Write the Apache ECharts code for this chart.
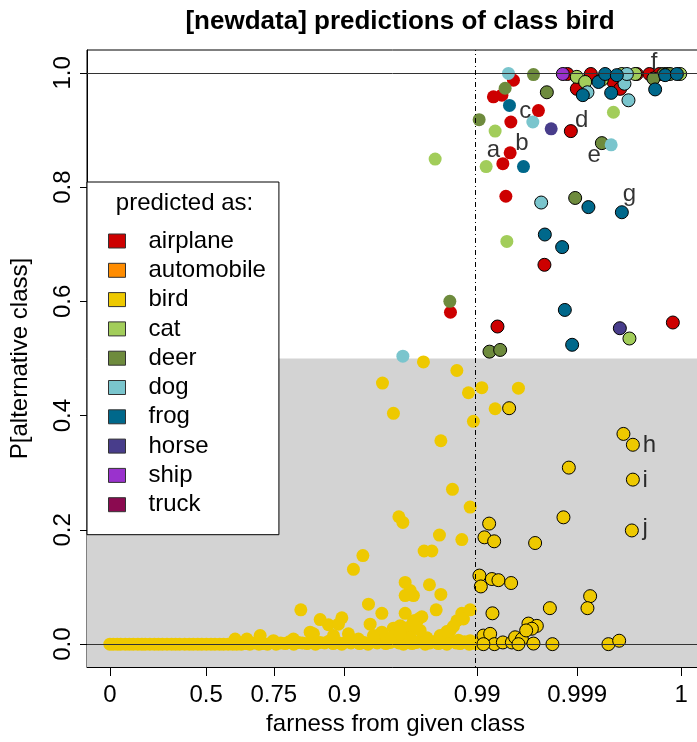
<!DOCTYPE html>
<html><head><meta charset="utf-8">
<script src="https://cdn.jsdelivr.net/npm/echarts@6/dist/echarts.min.js"></script>
<style>html,body{margin:0;padding:0;background:#fff}#c{width:697px;height:742px}</style>
</head><body><div id="c"></div>
<script>
// ---------- labels / scales ----------
const classNames = ['airplane','automobile','bird','cat','deer','dog','frog','horse','ship','truck'];
const classColors = ['#CD0000','#FF8C00','#EEC900','#A2CD5A','#6E8B3D','#7AC5CD','#00688B','#483D8B','#9A32CD','#8B0A50'];
// x axis: farness from given class, shown on a stretched scale; tick labels and their axis positions
const xTickLabels = ['0','0.5','0.75','0.9','0.99','0.999','1'];
const xTickPos = [0, 0.1686, 0.2870, 0.4107, 0.6430, 0.8180, 1];
const yTicks = [0, 0.2, 0.4, 0.6, 0.8, 1.0];
const thresholdX = 0.6430;   // farness 0.99
const refLinesY = [0, 1];
const shadeTop = 0.5;

// ---------- data: [axis position of farness, P[alternative class], outlined(1/0)] ----------
const airplanePts = [
  [0.7065,0.987,0],[0.6862,0.961,0],[0.6714,0.958,0],[0.7502,0.934,0],[0.7019,0.914,0],
  [0.7007,0.860,0],[0.6879,0.841,0],[0.6932,0.784,0],[0.5962,0.581,0],
  [0.8069,0.898,1],[0.7607,0.664,1],[0.6785,0.556,1],[0.9855,0.563,1],
  [0.8010,0.998,1],[0.8419,0.998,1],[0.9224,0.998,1],[0.9445,0.998,1],[0.9620,0.998,1],
  [0.8174,0.972,1],[0.8815,0.984,1],[0.8932,0.972,1]
];
const automobilePts = [];
const birdPts = [
  [0.5489,0.494,0],[0.6074,0.479,0],[0.4772,0.457,0],[0.6277,0.440,0],[0.6511,0.449,0],
  [0.7152,0.448,0],[0.4964,0.404,0],[0.6744,0.412,0],[0.6364,0.390,0],[0.5794,0.356,0],
  [0.5997,0.271,0],[0.6307,0.240,0],[0.5059,0.223,0],[0.5129,0.213,0],[0.5769,0.191,0],
  [0.6161,0.183,0],[0.4429,0.155,0],[0.4264,0.131,0],[0.5501,0.163,0],[0.5636,0.163,0],
  [0.5169,0.108,0],[0.5256,0.094,0],[0.5169,0.085,0],[0.5314,0.085,0],[0.5594,0.104,0],
  [0.5794,0.087,0],[0.4527,0.070,0],[0.4761,0.054,0],[0.5169,0.054,0],[0.5712,0.060,0],
  [0.3343,0.060,0],[0.4556,0.035,0],[0.3681,0.043,0],[0.3826,0.034,0],[0.4061,0.046,0],
  [0.4001,0.035,0],[0.6161,0.054,0],[0.6307,0.060,0],[0.6074,0.041,0],[0.6189,0.044,0],
  [0.5957,0.024,0],[0.5402,0.044,0],[0.5461,0.048,0],[0.5374,0.029,0],[0.4964,0.028,0],
  [0.5081,0.032,0],[0.5227,0.029,0],[0.4761,0.021,0],[0.3564,0.018,0],[0.2631,0.015,0],
  [0.4176,0.018,0],[0.4351,0.009,0],[0.2193,0.009,0],[0.2398,0.009,0],[0.3214,0.009,0],
  [0.3506,0.021,0],[0.3914,0.015,0],[0.4614,0.015,0],[0.4936,0.012,0],[0.5549,0.011,0],
  [0.5782,0.015,0],[0.5899,0.022,0],[0.6014,0.031,0],[0.6102,0.007,0],[0.6307,0.006,0],
  [0.5256,0.012,0],[0.5081,0.018,0],[0.5314,0.041,0],[0.5431,0.024,0],[0.2864,0.006,0],
  [0.6989,0.413,1],[0.8990,0.368,1],[0.9155,0.349,1],[0.8034,0.309,1],[0.9155,0.288,1],
  [0.6639,0.211,1],[0.7940,0.222,1],[0.9137,0.199,1],[0.6557,0.187,1],[0.6727,0.180,1],
  [0.7444,0.177,1],[0.6469,0.120,1],[0.6494,0.101,1],[0.6687,0.114,1],[0.6802,0.112,1],
  [0.7024,0.107,1],[0.8407,0.084,1],[0.8360,0.063,1],[0.7702,0.063,1],[0.6697,0.054,1],
  [0.7327,0.036,1],[0.7474,0.032,1],[0.7387,0.027,1],[0.6539,0.015,1],[0.6657,0.018,1],
  [0.6732,0.000,1],[0.6879,0.003,1],[0.7037,0.003,1],[0.7094,0.012,1],[0.7212,0.009,1],
  [0.7152,0.000,1],[0.7415,0.001,1],[0.7747,0.000,1],[0.8727,0.000,1],[0.8915,0.006,1],
  [0.6539,0.000,1],[0.7287,0.024,1]
];
// the dense run of bird predictions lying on P = 0
const birdBandX = [
  0.000,0.006,0.013,0.019,0.027,0.034,0.041,0.049,0.056,0.062,0.070,0.078,0.085,0.092,
  0.100,0.108,0.115,0.122,0.131,0.139,0.146,0.154,0.161,0.169,0.177,0.184,0.192,0.199,
  0.207,0.215,0.222,0.230,0.238,0.245,0.253,0.261,0.268,0.276,0.284,0.291,0.299,0.307,
  0.314,0.322,0.330,0.337,0.345,0.353,0.360,0.368,0.376,0.383,0.391,0.399,0.406,0.414,
  0.422,0.429,0.437,0.445,0.452,0.460,0.468,0.475,0.483,0.491,0.498,0.506,0.514,0.521,
  0.529,0.537,0.544,0.552,0.560,0.567,0.575,0.583,0.590,0.598,0.606,0.613,0.621,0.629,
  0.636,0.642
];
const birdBandY = [
  0.000,0.000,0.000,0.000,0.000,0.000,0.000,0.000,0.000,0.000,0.000,0.000,0.000,0.000,
  0.000,0.000,0.000,0.000,0.000,0.000,0.000,0.000,0.000,0.000,0.000,0.000,0.000,0.000,
  0.000,0.000,0.000,0.000,0.001,0.000,0.002,0.000,0.001,0.000,0.003,0.000,0.002,0.001,
  0.004,0.000,0.003,0.002,0.001,0.004,0.000,0.003,0.002,0.005,0.001,0.003,0.000,0.004,
  0.002,0.006,0.001,0.003,0.000,0.004,0.002,0.005,0.001,0.003,0.006,0.002,0.000,0.004,
  0.001,0.003,0.005,0.000,0.002,0.004,0.001,0.003,0.000,0.005,0.002,0.001,0.004,0.000,
  0.002,0.001
];
const catPts = [
  [0.6744,0.898,0],[0.6587,0.836,0],[0.5694,0.849,0],[0.8815,0.931,0],[0.6949,0.705,0],
  [0.9095,0.535,1],[0.8174,0.993,1],[0.8320,0.984,1],[0.8612,0.988,1],[0.8962,0.998,1],
  [0.9195,0.998,1],[0.9983,0.998,1]
];
const deerPts = [
  [0.6919,0.973,0],[0.7415,0.997,0],[0.6464,0.918,0],[0.5951,0.600,0],
  [0.7649,0.966,1],[0.8612,0.877,1],[0.8145,0.781,1],[0.6645,0.512,1],[0.6832,0.515,1],
  [0.9690,0.998,1],[0.9750,0.998,1],[0.9515,0.990,1],[0.9806,0.998,1]
];
const dogPts = [
  [0.6977,0.999,0],[0.7404,0.914,0],[0.8775,0.874,0],[0.5129,0.504,0],
  [0.7550,0.773,1],[0.8360,0.966,1],[0.9008,0.981,1],[0.9078,0.952,1],[0.9050,0.998,1]
];
const frogPts = [
  [0.6995,0.943,0],[0.7240,0.836,0],
  [0.8377,0.765,1],[0.8962,0.756,1],[0.7614,0.717,1],[0.7917,0.695,1],[0.7964,0.585,1],
  [0.8092,0.524,1],[0.8279,0.961,1],[0.8553,0.984,1],[0.8775,0.965,1],[0.9545,0.971,1],
  [0.8670,0.998,1],[0.8874,0.996,1],[0.9720,0.996,1],[0.9925,0.998,1]
];
const horsePts = [[0.7725,0.902,0],[0.8927,0.553,1]];
const shipPts = [[0.7929,0.998,1]];
const truckPts = [];

// labelled examples
const noteLetters = ['a','b','c','d','e','f','g','h','i','j'];
const noteX = [0.6714,0.7211,0.7270,0.8260,0.8477,0.9527,0.9095,0.9445,0.9370,0.9370];
const noteY = [0.864,0.876,0.933,0.917,0.856,1.019,0.788,0.348,0.286,0.202];

// ---------- build ----------
const FONT = '"Liberation Sans", Arial, Helvetica, sans-serif';
const byClass = {
  airplane: airplanePts, automobile: automobilePts,
  bird: birdBandX.map((x, i) => [x, birdBandY[i], 0]).concat(birdPts),
  cat: catPts, deer: deerPts, dog: dogPts, frog: frogPts, horse: horsePts, ship: shipPts, truck: truckPts
};
function toData(arr) {
  return arr.map(p => p[2]
    ? { value: [p[0], p[1]], itemStyle: { borderColor: '#000', borderWidth: 1 } }
    : { value: [p[0], p[1]] });
}
const drawOrder = ['bird','airplane','automobile','cat','deer','dog','frog','horse','ship','truck'];
const series = [{
  type: 'scatter', name: '_shade', data: [], silent: true, z: 0,
  markArea: { silent: true, itemStyle: { color: '#D3D3D3' }, data: [[{ yAxis: -0.04 }, { yAxis: shadeTop }]] }
}];
drawOrder.forEach(n => {
  const i = classNames.indexOf(n);
  series.push({
    type: 'scatter', name: n, symbol: 'circle', symbolSize: 13, z: 2,
    itemStyle: { color: classColors[i], borderWidth: 0, opacity: 1 },
    data: toData(byClass[n])
  });
});
series.push({
  type: 'scatter', name: '_lines', data: [], silent: true, z: 5,
  markLine: {
    silent: true, symbol: ['none', 'none'], label: { show: false },
    data: [
      { yAxis: refLinesY[0], lineStyle: { color: '#333', width: 1, type: 'solid' } },
      { yAxis: refLinesY[1], lineStyle: { color: '#333', width: 1, type: 'solid' } },
      { xAxis: thresholdX, lineStyle: { color: '#000', width: 1, type: [1, 3, 5, 3] } }
    ]
  }
});
series.push({
  type: 'scatter', name: '_notes', symbolSize: 0, silent: true, z: 6,
  data: noteLetters.map((l, i) => ({ name: l, value: [noteX[i], noteY[i]] })),
  label: { show: true, position: 'inside', formatter: p => p.name, fontSize: 24, color: '#000', fontFamily: FONT }
});

const chart = echarts.init(document.getElementById('c'), null, { renderer: 'canvas', width: 697, height: 742 });
chart.setOption({
  animation: false,
  backgroundColor: '#fff',
  title: {
    text: '[newdata] predictions of class bird', left: 395, top: 4, textAlign: 'center',
    textStyle: { fontSize: 26, fontWeight: 'bold', color: '#000', fontFamily: FONT }
  },
  grid: { left: 87, top: 50, width: 617, height: 617, show: true, borderColor: '#000', borderWidth: 1,
          backgroundColor: '#fff', containLabel: false, outerBoundsMode: 'none' },
  xAxis: {
    type: 'value', min: -0.04, max: 1.04,
    name: 'farness from given class', nameLocation: 'middle', nameGap: 42,
    nameTextStyle: { fontSize: 24, color: '#000', fontFamily: FONT },
    axisLine: { show: true, onZero: false, lineStyle: { color: '#000', width: 1 } },
    axisTick: { show: true, length: 9, customValues: xTickPos, lineStyle: { color: '#000' } },
    axisLabel: {
      customValues: xTickPos, fontSize: 24, color: '#000', fontFamily: FONT, margin: 16,
      formatter: v => { const k = xTickPos.findIndex(t => Math.abs(t - v) < 1e-6); return k >= 0 ? xTickLabels[k] : ''; }
    },
    splitLine: { show: false }
  },
  yAxis: {
    type: 'value', min: -0.04, max: 1.04,
    name: 'P[alternative class]', nameLocation: 'middle', nameGap: 55, nameRotate: 90,
    nameTextStyle: { fontSize: 24, color: '#000', fontFamily: FONT },
    axisLine: { show: true, onZero: false, lineStyle: { color: '#000', width: 1 } },
    axisTick: { show: true, length: 7, customValues: yTicks, lineStyle: { color: '#000' } },
    axisLabel: {
      customValues: yTicks, rotate: 90, fontSize: 24, color: '#000', fontFamily: FONT, margin: 12,
      formatter: v => v.toFixed(1)
    },
    splitLine: { show: false }
  },
  legend: {
    data: classNames, orient: 'vertical', left: 87, top: 182,
    padding: [47, 13, 18, 21], itemGap: 5.3, itemWidth: 17, itemHeight: 14, icon: 'rect',
    backgroundColor: '#fff', borderColor: '#000', borderWidth: 1, borderRadius: 0,
    selectedMode: false,
    itemStyle: { borderColor: '#333', borderWidth: 1 },
    textStyle: { fontSize: 24, lineHeight: 24, color: '#000', fontFamily: FONT, padding: [0, 0, 0, 18] }
  },
  graphic: [{
    type: 'text', x: 184.5, y: 203, z: 100,
    style: { text: 'predicted as:', fontSize: 24, fill: '#000', fontFamily: FONT, align: 'center', verticalAlign: 'middle' }
  }],
  series: series
});
</script>
</body></html>
